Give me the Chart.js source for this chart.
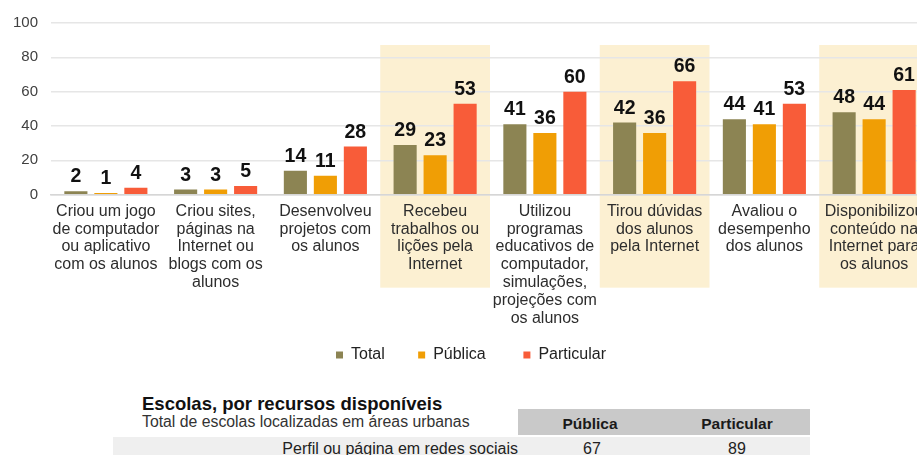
<!DOCTYPE html>
<html lang="pt">
<head>
<meta charset="utf-8">
<title>Professores, por atividades realizadas</title>
<script src="https://cdn.jsdelivr.net/npm/chart.js@4.4.1/dist/chart.umd.min.js"></script>
<style>
  body { margin: 0; background: #fff; font-family: "Liberation Sans", Arial, sans-serif; }
  #wrap { position: relative; width: 917px; height: 455px; overflow: hidden; }
  #chart { position: absolute; left: 0; top: 0; }
  .t { position: absolute; white-space: nowrap; line-height: 20px; color: #1a1a1a; }
  .title { left: 142px; top: 394px; font-size: 18.5px; font-weight: bold; color: #111; }
  .sub { left: 142px; top: 412px; font-size: 15.8px; color: #333; }
  .head { left: 518px; top: 409px; width: 292px; height: 26px; background: #c9c9c9; }
  .band { left: 113px; top: 437px; width: 697px; height: 30px; background: #efefef; }
  .hcell { top: 414px; font-size: 15.5px; font-weight: bold; width: 120px; text-align: center; }
  .cell { top: 439px; font-size: 16px; color: #222; }
</style>
</head>
<body>
<div id="wrap">
  <canvas id="chart" width="935" height="373"></canvas>

  <div class="t head"></div>
  <div class="t band"></div>
  <div class="t title">Escolas, por recursos disponíveis</div>
  <div class="t sub">Total de escolas localizadas em áreas urbanas</div>
  <div class="t hcell" style="left:530px">Pública</div>
  <div class="t hcell" style="left:677px">Particular</div>
  <div class="t cell" style="right:399px">Perfil ou página em redes sociais</div>
  <div class="t cell" style="left:532px;width:120px;text-align:center">67</div>
  <div class="t cell" style="left:677px;width:120px;text-align:center">89</div>
</div>

<script>
const categories = [
  ["Criou um jogo", "de computador", "ou aplicativo", "com os alunos"],
  ["Criou sites,", "páginas na", "Internet ou", "blogs com os", "alunos"],
  ["Desenvolveu", "projetos com", "os alunos"],
  ["Recebeu", "trabalhos ou", "lições pela", "Internet"],
  ["Utilizou", "programas", "educativos de", "computador,", "simulações,", "projeções com", "os alunos"],
  ["Tirou dúvidas", "dos alunos", "pela Internet"],
  ["Avaliou o", "desempenho", "dos alunos"],
  ["Disponibilizou", "conteúdo na", "Internet para", "os alunos"]
];
const seriesNames = ["Total", "Pública", "Particular"];
const totalValues = [2, 3, 14, 29, 41, 42, 44, 48];
const publicaValues = [1, 3, 11, 23, 36, 36, 41, 44];
const particularValues = [4, 5, 28, 53, 60, 66, 53, 61];
const yTicks = [0, 20, 40, 60, 80, 100];
const highlighted = [3, 5, 7];

const family = "'Liberation Sans', Arial, sans-serif";
const colors = ["#8c8453", "#f09e05", "#f85c39"];
const legendGaps = [3, 4, 0];

// yellow boxes behind some categories
const highlightPlugin = {
  id: "highlight",
  beforeDraw(chart) {
    const { ctx, chartArea, scales: { x } } = chart;
    const w = x.width / categories.length;
    ctx.save();
    ctx.fillStyle = "#fcf0d2";
    highlighted.forEach(i => {
      const cx = x.getPixelForValue(i);
      const top = chartArea.top + 22;
      ctx.fillRect(cx - w / 2, top, w, chartArea.bottom + 93 - top);
    });
    ctx.restore();
  }
};

// numbers above bars
const valueLabels = {
  id: "valueLabels",
  afterDatasetsDraw(chart) {
    const { ctx } = chart;
    ctx.save();
    ctx.font = "bold 19.5px " + family;
    ctx.fillStyle = "#111";
    ctx.textAlign = "center";
    ctx.textBaseline = "alphabetic";
    chart.data.datasets.forEach((ds, di) => {
      chart.getDatasetMeta(di).data.forEach((bar, i) => {
        ctx.fillText(ds.data[i], bar.x, bar.y - 9);
      });
    });
    ctx.restore();
  }
};

new Chart(document.getElementById("chart"), {
  type: "bar",
  data: {
    labels: categories,
    datasets: [totalValues, publicaValues, particularValues].map((vals, i) => ({
      label: seriesNames[i],
      data: vals,
      backgroundColor: colors[i],
      categoryPercentage: 0.82,
      barPercentage: 0.77
    }))
  },
  options: {
    responsive: false,
    animation: false,
    layout: { padding: { top: 23, left: 13, right: 6, bottom: 0 } },
    scales: {
      x: {
        grid: { display: false, drawTicks: false },
        border: { color: "#d6d6d6", width: 1.5 },
        // 8px padding + 7 label lines, no extra space below
        afterFit(scale) { scale.height = 8 + 7 * 16 * 1.11; },
        ticks: {
          autoSkip: false,
          maxRotation: 0,
          padding: 8,
          color: "#2d2d2d",
          font: { size: 16, family, lineHeight: 1.11 }
        }
      },
      y: {
        min: 0,
        max: 100,
        afterBuildTicks(scale) { scale.ticks = yTicks.map(v => ({ value: v })); },
        afterFit(scale) { scale.width = 38; },
        grid: { color: "#e6e6e6", lineWidth: 1.5, drawTicks: false },
        border: { display: false },
        ticks: { padding: 13, color: "#404040", font: { size: 15, family } }
      }
    },
    plugins: {
      tooltip: { enabled: false },
      legend: {
        position: "bottom",
        labels: {
          boxWidth: 7,
          boxHeight: 7,
          padding: 20,
          color: "#222",
          font: { size: 16, family },
          generateLabels(chart) {
            const items = Chart.defaults.plugins.legend.labels.generateLabels(chart);
            items.forEach((it, i) => { it.text += "\u00a0".repeat(legendGaps[i]); });
            return items;
          }
        }
      }
    }
  },
  plugins: [highlightPlugin, valueLabels]
});
</script>
</body>
</html>
